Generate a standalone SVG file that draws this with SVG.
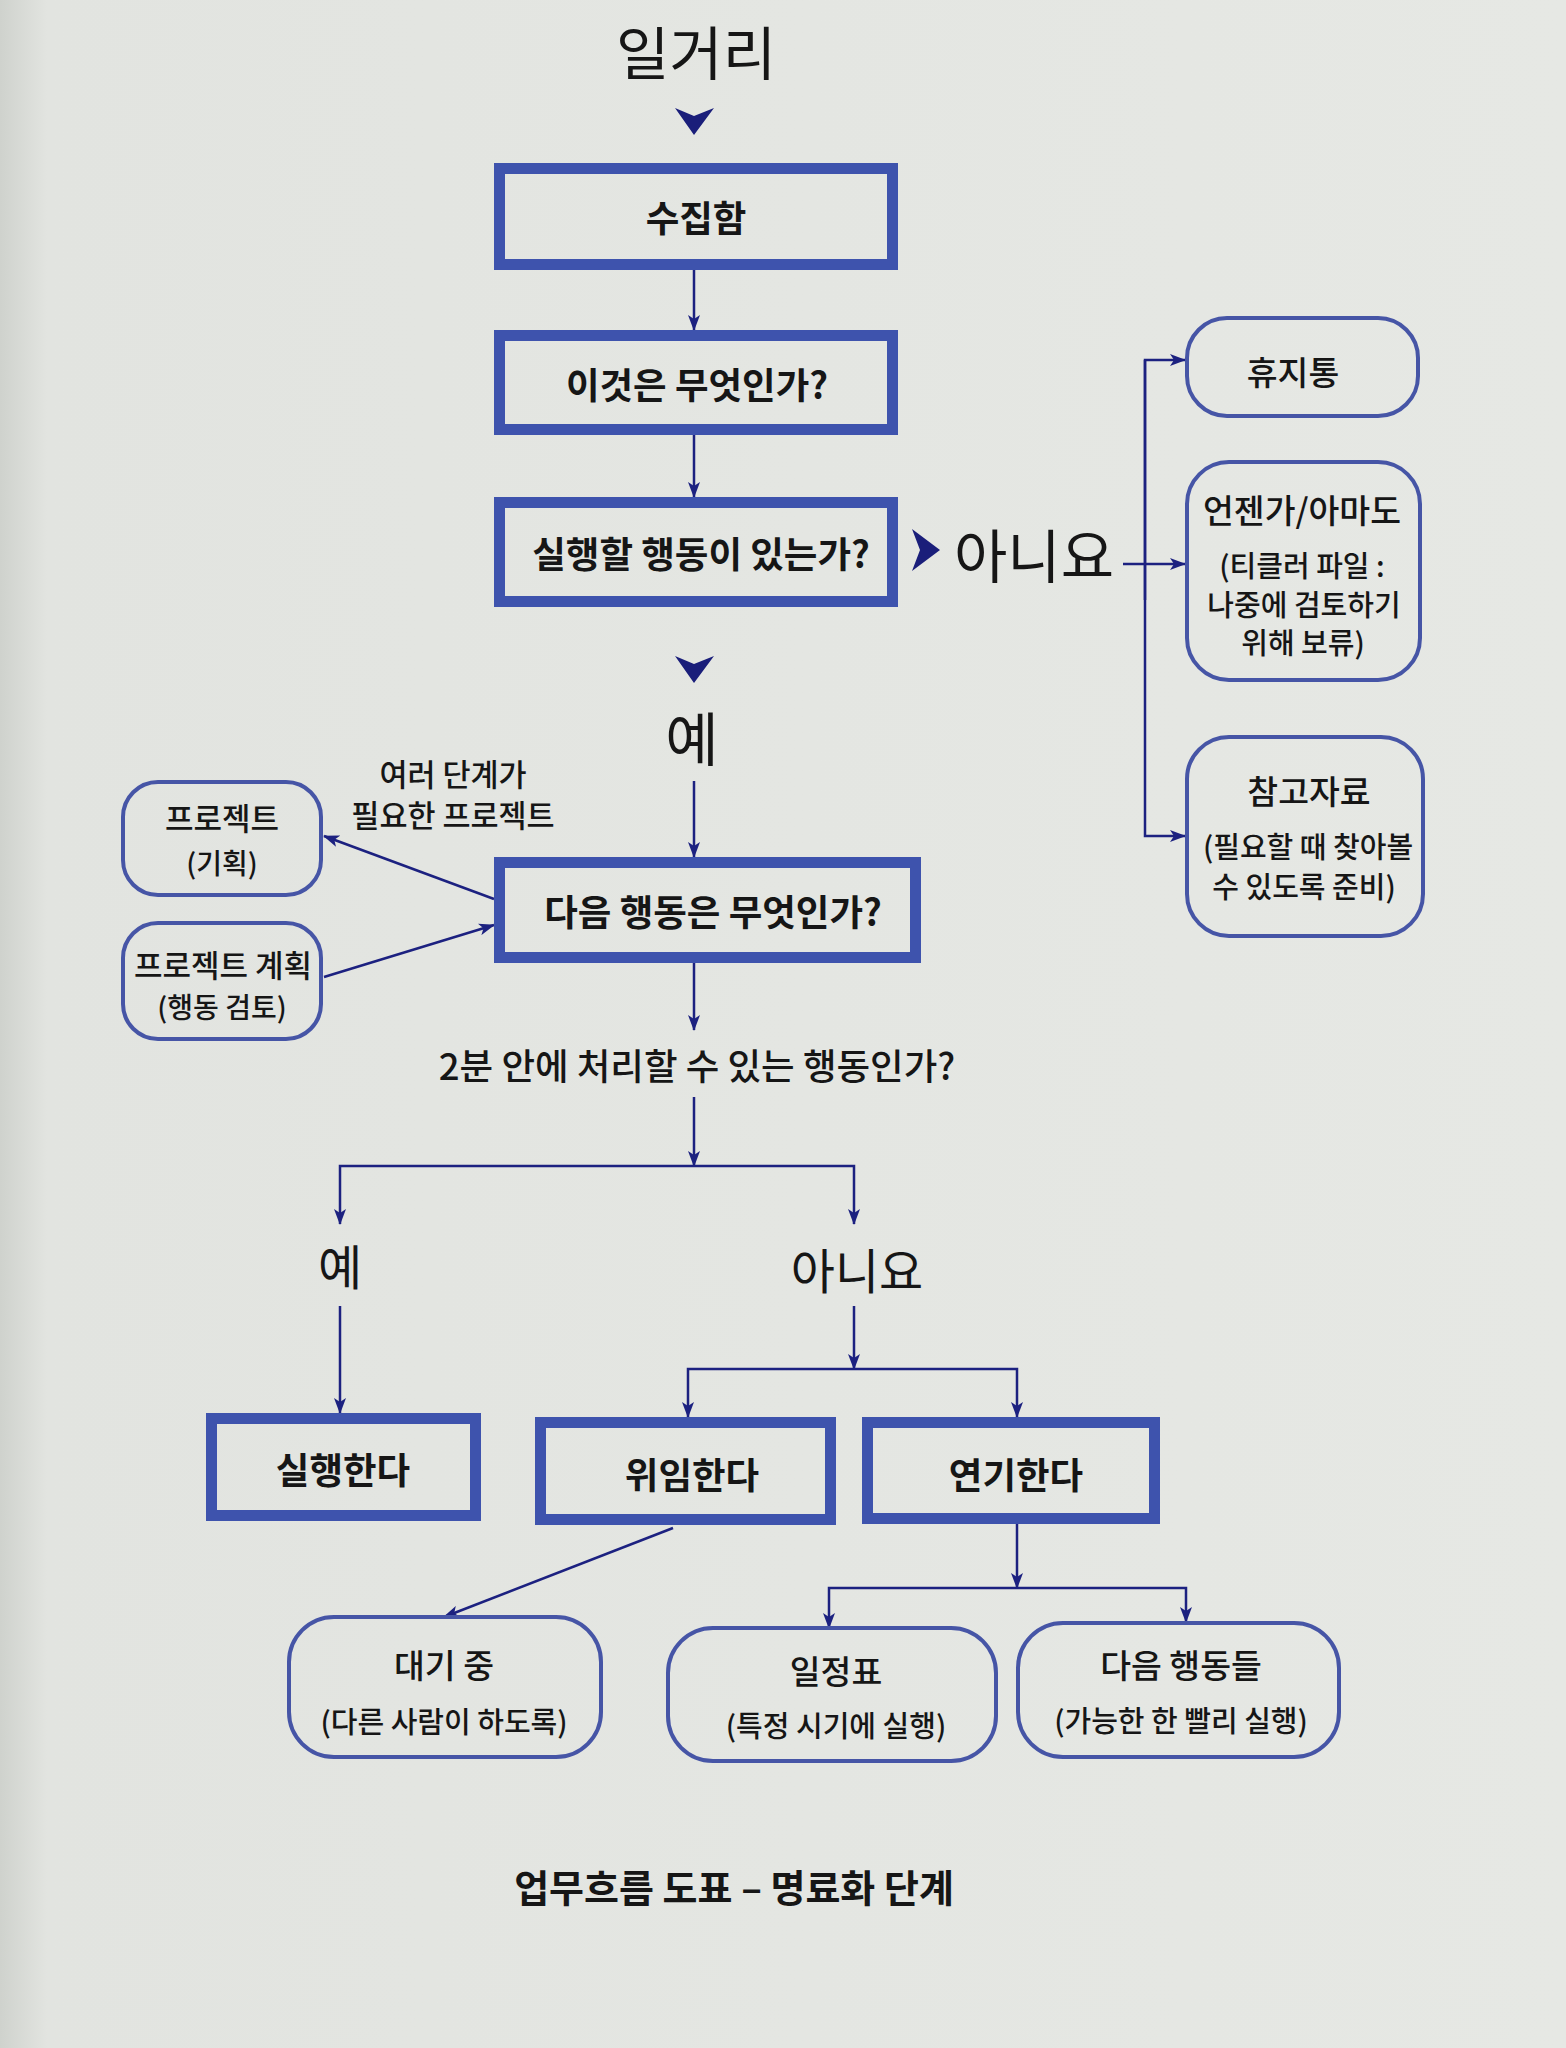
<svg xmlns="http://www.w3.org/2000/svg" width="1566" height="2048" viewBox="0 0 1566 2048">
<defs>
<linearGradient id="page" x1="0" y1="0" x2="1" y2="0">
<stop offset="0" stop-color="#cfd2cd"/>
<stop offset="0.03" stop-color="#e2e4e0"/>
<stop offset="1" stop-color="#e6e8e4"/>
</linearGradient>
<marker id="arr" markerUnits="userSpaceOnUse" markerWidth="16" markerHeight="12" viewBox="0 0 16 12" refX="15" refY="6" orient="auto">
<path d="M0,0 L16,6 L0,12 L4,6 z" fill="#1c2180"/>
</marker>
<style>
.thick{fill:none;stroke:#3e53ad;stroke-width:11}
.round{fill:none;stroke:#4655a6;stroke-width:4}
.con{fill:none;stroke:#1c2180;stroke-width:2.5}
.tri{fill:#1a1e7a}
text{font-family:"Noto Sans CJK KR","Noto Sans",sans-serif;fill:#161616;text-anchor:middle;dominant-baseline:central}
.bx{font-size:36.5px;font-weight:700}
.big{font-size:58px;font-weight:400}
.mid{font-size:48px;font-weight:400}
.rt{font-size:33.5px;font-weight:500}
.rs{font-size:29px;font-weight:500}
.lt{font-size:31px;font-weight:500}
.ls{font-size:28px;font-weight:500}
.lab{font-size:30.5px;font-weight:500}
.q{font-size:36.5px;font-weight:500}
.cap{font-size:38px;font-weight:700}
</style>
</defs>
<rect x="0" y="0" width="1566" height="2048" fill="url(#page)"/>

<g id="connectors">
<path class="con" d="M694,270 V330" marker-end="url(#arr)"/>
<path class="con" d="M694,435 V497" marker-end="url(#arr)"/>
<path class="con" d="M1123,564 H1185" marker-end="url(#arr)"/>
<path class="con" d="M1145,600 V360 H1185" marker-end="url(#arr)"/>
<path class="con" d="M1145,360 V836 H1185" marker-end="url(#arr)"/>
<path class="con" d="M694,781 V857" marker-end="url(#arr)"/>
<path class="con" d="M494,899 L324,836" marker-end="url(#arr)"/>
<path class="con" d="M324,977 L494,925" marker-end="url(#arr)"/>
<path class="con" d="M694,963 V1030" marker-end="url(#arr)"/>
<path class="con" d="M694,1097 V1166" marker-end="url(#arr)"/>
<path class="con" d="M694,1166 H340 V1224" marker-end="url(#arr)"/>
<path class="con" d="M694,1166 H854 V1224" marker-end="url(#arr)"/>
<path class="con" d="M340,1306 V1413" marker-end="url(#arr)"/>
<path class="con" d="M854,1306 V1369" marker-end="url(#arr)"/>
<path class="con" d="M854,1369 H688 V1417" marker-end="url(#arr)"/>
<path class="con" d="M854,1369 H1017 V1417" marker-end="url(#arr)"/>
<path class="con" d="M673,1528 L444,1617" marker-end="url(#arr)"/>
<path class="con" d="M1017,1524 V1588" marker-end="url(#arr)"/>
<path class="con" d="M1017,1588 H829 V1628" marker-end="url(#arr)"/>
<path class="con" d="M1017,1588 H1186 V1622" marker-end="url(#arr)"/>
<path class="tri" d="M675,108 L694,116 L714,108 L694,135 z"/>
<path class="tri" d="M675,656 L694,664 L714,656 L694,683 z"/>
<path class="tri" d="M912,529 L920,550 L912,571 L940,550 z"/>
</g>

<g id="label-ilgeori"><text class="big" x="696" y="50">일거리</text></g>
<g id="label-no1"><text class="big" x="1034" y="553">아니요</text></g>
<g id="label-yes1"><text class="big" x="692" y="736">예</text></g>
<g id="label-multistep"><text class="lab" x="453" y="773">여러 단계가</text><text class="lab" x="453" y="814">필요한 프로젝트</text></g>
<g id="label-2min"><text class="q" x="697" y="1064">2분 안에 처리할 수 있는 행동인가?</text></g>
<g id="label-yes2"><text class="mid" x="340" y="1264">예</text></g>
<g id="label-no2"><text class="mid" x="857" y="1268">아니요</text></g>

<g id="n-collect"><rect class="thick" x="499.5" y="168.5" width="393" height="96"/><text class="bx" x="696" y="216">수집함</text></g>
<g id="n-what"><rect class="thick" x="499.5" y="335.5" width="393" height="94"/><text class="bx" x="697" y="383">이것은 무엇인가?</text></g>
<g id="n-actionable"><rect class="thick" x="499.5" y="502.5" width="393" height="99"/><text class="bx" x="701" y="552">실행할 행동이 있는가?</text></g>
<g id="n-next"><rect class="thick" x="499.5" y="862.5" width="416" height="95"/><text class="bx" x="713" y="910">다음 행동은 무엇인가?</text></g>
<g id="n-do"><rect class="thick" x="211.5" y="1418.5" width="264" height="97"/><text class="bx" x="343" y="1468">실행한다</text></g>
<g id="n-delegate"><rect class="thick" x="540.5" y="1422.5" width="290" height="97"/><text class="bx" x="692" y="1473">위임한다</text></g>
<g id="n-defer"><rect class="thick" x="867.5" y="1422.5" width="287" height="96"/><text class="bx" x="1016" y="1473">연기한다</text></g>

<g id="n-trash"><rect class="round" x="1187" y="318" width="231" height="98" rx="40"/><text class="rt" x="1293" y="370">휴지통</text></g>
<g id="n-someday"><rect class="round" x="1187" y="462" width="233" height="218" rx="42"/><text class="rt" x="1302" y="508">언젠가/아마도</text><text class="rs" x="1302" y="564">(티클러 파일 :</text><text class="rs" x="1304" y="603">나중에 검토하기</text><text class="rs" x="1303" y="641">위해 보류)</text></g>
<g id="n-reference"><rect class="round" x="1187" y="737" width="236" height="199" rx="42"/><text class="rt" x="1309" y="789">참고자료</text><text class="rs" x="1308" y="845">(필요할 때 찾아볼</text><text class="rs" x="1304" y="885">수 있도록 준비)</text></g>
<g id="n-project"><rect class="round" x="123" y="782" width="198" height="113" rx="35"/><text class="lt" x="222" y="816">프로젝트</text><text class="ls" x="222" y="862">(기획)</text></g>
<g id="n-projplan"><rect class="round" x="123" y="923" width="198" height="116" rx="35"/><text class="lt" x="223" y="963">프로젝트 계획</text><text class="ls" x="222" y="1006">(행동 검토)</text></g>
<g id="n-waiting"><rect class="round" x="289" y="1617" width="312" height="140" rx="45"/><text class="rt" x="444" y="1663">대기 중</text><text class="rs" x="444" y="1720">(다른 사람이 하도록)</text></g>
<g id="n-calendar"><rect class="round" x="668" y="1628" width="328" height="133" rx="45"/><text class="rt" x="836" y="1669">일정표</text><text class="rs" x="836" y="1724">(특정 시기에 실행)</text></g>
<g id="n-nextactions"><rect class="round" x="1018" y="1623" width="321" height="134" rx="45"/><text class="rt" x="1181" y="1663">다음 행동들</text><text class="rs" x="1181" y="1719">(가능한 한 빨리 실행)</text></g>

<g id="caption"><text class="cap" x="734" y="1885">업무흐름 도표 – 명료화 단계</text></g>
</svg>
